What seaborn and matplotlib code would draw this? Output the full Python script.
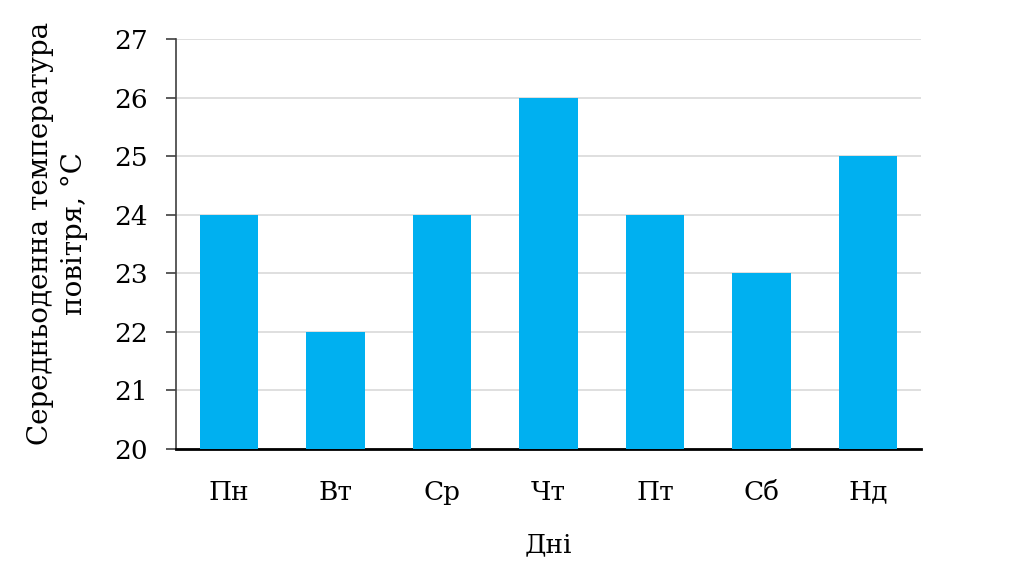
import matplotlib
matplotlib.use("Agg")
import matplotlib.pyplot as plt
import seaborn as sns
import pandas as pd

days = ["Пн", "Вт", "Ср", "Чт", "Пт", "Сб", "Нд"]
temps = [24, 22, 24, 26, 24, 23, 25]
yticks = [20, 21, 22, 23, 24, 25, 26, 27]

sns.set_theme(style="white")
plt.rcParams['font.family'] = ['DejaVu Serif']
plt.rcParams['text.color'] = 'black'
plt.rcParams['axes.labelcolor'] = 'black'
plt.rcParams['xtick.color'] = 'black'
plt.rcParams['ytick.color'] = 'black'

df = pd.DataFrame({"day": days, "temp": temps})
fig = plt.figure(figsize=(10.24, 5.72), dpi=100)
ax = fig.add_axes([176/1024, 1-449/572, (921-176)/1024, (449-39)/572])
sns.barplot(data=df, x="day", y="temp", color="#00B0F0", saturation=1, width=0.55, ax=ax, zorder=3, edgecolor="none")
ax.set_ylim(20, 27)
ax.set_yticks(yticks)
ax.yaxis.grid(True, color="#d9d9d9", linewidth=1.2, zorder=0)
ax.set_axisbelow(True)
for s in ["top", "right"]:
    ax.spines[s].set_visible(False)
ax.spines["left"].set_color("#404040")
ax.spines["left"].set_linewidth(1.2)
ax.spines["bottom"].set_color("black")
ax.spines["bottom"].set_linewidth(2)
ax.tick_params(axis="y", left=True, length=7, width=1.2, color="#404040", labelsize=19, pad=13, labelcolor="black")
ax.tick_params(axis="x", bottom=False, labelsize=19, pad=16, labelcolor="black")
ax.set_xlabel("Дні", fontsize=19, labelpad=20)
ax.set_ylabel("Середньоденна температура\nповітря, °C", fontsize=20, linespacing=1.35)
ax.yaxis.set_label_coords(-0.118, 0.525)
fig.savefig("out.png", dpi=100)
